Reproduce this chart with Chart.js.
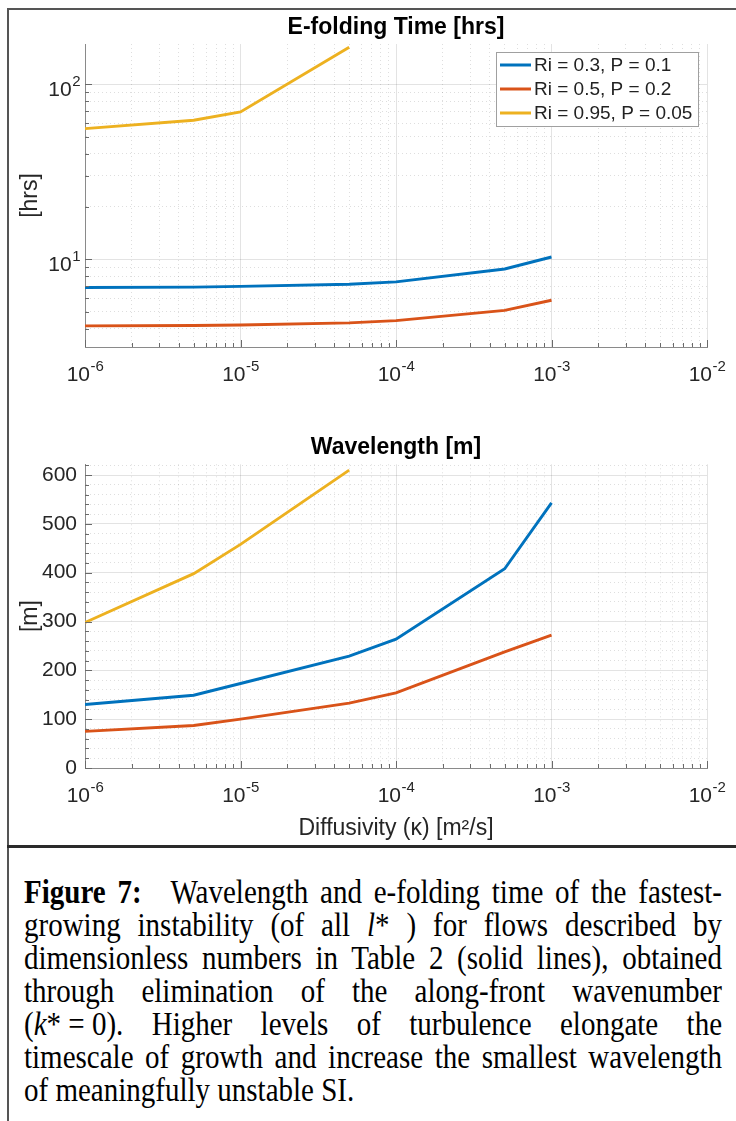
<!DOCTYPE html>
<html lang="en">
<head>
<meta charset="UTF-8">
<title>Figure 7</title>
<script src="https://cdn.jsdelivr.net/npm/chart.js"></script>
<style>
  body {
    margin: 0;
    background: #fff;
    width: 736px;
    height: 1121px;
    position: relative;
    overflow: hidden;
  }
  .frame-left { position: absolute; left: 7px; top: 8px; width: 2px; height: 1113px; background: #555; }
  .frame-top { position: absolute; left: 7px; top: 8px; width: 729px; height: 2px; background: #555; }
  .frame-rule { position: absolute; left: 7px; top: 845px; width: 729px; height: 3px; background: #2a2a2a; }
  #topChart { position: absolute; left: 0; top: 0; }
  #bottomChart { position: absolute; left: 0; top: 420px; }
  .caption {
    position: absolute;
    left: 24px;
    top: 877px;
    width: 698px;
    font-family: 'Liberation Serif', 'Times New Roman', serif;
    font-size: 29px;
    line-height: 33px;
    color: #000;
  }
  .caption div {
    text-align: justify;
    text-align-last: justify;
    transform: scaleY(1.18);
    transform-origin: center 26px;
  }
  .caption div.last { text-align-last: left; }
  .keep { display: inline-block; }
</style>
</head>
<body>
<div class="frame-left"></div>
<div class="frame-top"></div>
<div class="frame-rule"></div>

<canvas id="topChart" width="736" height="410"></canvas>
<canvas id="bottomChart" width="736" height="426"></canvas>

<div class="caption">
  <div><b>Figure 7:</b>&emsp;Wavelength and e-folding time of the fastest-</div>
  <div>growing instability (of all <i>l</i>* ) for flows described by</div>
  <div>dimensionless numbers in Table 2 (solid lines), obtained</div>
  <div>through elimination of the along-front wavenumber</div>
  <div><span class="keep">(<i>k</i>* = 0).</span> Higher levels of turbulence elongate the</div>
  <div>timescale of growth and increase the smallest wavelength</div>
  <div class="last">of meaningfully unstable SI.</div>
</div>

<script>
// diffusivity values (m^2/s)
const kappa = [1e-6, 5e-6, 1e-5, 5e-5, 1e-4, 5e-4, 1e-3];

const seriesLabels = ['Ri = 0.3, P = 0.1', 'Ri = 0.5, P = 0.2', 'Ri = 0.95, P = 0.05'];
const seriesColors = ['#0072BD', '#D95319', '#EDB120'];

// e-folding time [hrs]
const efoldBlue = [6.9, 6.93, 7.0, 7.2, 7.42, 8.8, 10.3];
const efoldRed = [4.16, 4.18, 4.21, 4.33, 4.46, 5.1, 5.83];
const efoldYellow = [55.8, 62.3, 69.5, 163];

// wavelength [m]
const waveBlue = [130, 149, 173, 229, 264, 408, 543];
const waveRed = [75, 87, 100, 133, 154, 238, 272];
const waveYellow = [298, 398, 458, 610];

// axis decades / ticks
const xDecades = [1e-6, 1e-5, 1e-4, 1e-3, 1e-2];
const efoldDecades = [1, 10, 100];
const waveMajor = [0, 100, 200, 300, 400, 500, 600];

const FONT = "'Liberation Sans', Arial, Helvetica, sans-serif";
const TEXT = '#262626';

function isDecade(v) {
  const l = Math.log10(v);
  return Math.abs(l - Math.round(l)) < 1e-6;
}

function logTicks(decades, lo, hi) {
  const out = [];
  decades.forEach(d => {
    for (let m = 1; m <= 9; m++) {
      const v = m * d;
      if (v >= lo * 0.999 && v <= hi * 1.001) out.push({value: v});
    }
  });
  return out;
}

function linTicks(lo, hi, step) {
  const out = [];
  for (let v = lo; v <= hi; v += step) out.push({value: v});
  return out;
}

function toPoints(values) {
  return values.map((v, i) => ({x: kappa[i], y: v}));
}

function makeDatasets(series) {
  return series.map((vals, i) => ({
    label: seriesLabels[i],
    data: toPoints(vals),
    borderColor: seriesColors[i],
    backgroundColor: seriesColors[i],
    borderWidth: 2.9,
    pointRadius: 0,
    tension: 0,
    fill: false
  }));
}

const majorGrid = 'rgba(0,0,0,0.11)';
const minorGrid = 'rgba(0,0,0,0.13)';

function gridFor(isMajor) {
  return {
    drawTicks: false,
    color: ctx => (ctx.tick && isMajor(ctx.tick.value)) ? majorGrid : minorGrid
  };
}

function borderFor(isMajor) {
  return {
    color: '#8a8a8a',
    width: 1,
    dash: ctx => (ctx.tick && !isMajor(ctx.tick.value)) ? [1, 3] : []
  };
}

// MATLAB-style tick marks drawn inside the axes
const inwardTicks = {
  id: 'inwardTicks',
  afterDraw(chart) {
    const {ctx, chartArea, scales} = chart;
    ctx.save();
    ctx.strokeStyle = '#6a6a6a';
    ctx.lineWidth = 1;
    const xs = scales.x, ys = scales.y;
    xs.ticks.forEach(t => {
      const px = Math.round(xs.getPixelForValue(t.value)) + 0.5;
      const len = isDecade(t.value) ? 7 : 4;
      ctx.beginPath();
      ctx.moveTo(px, chartArea.bottom);
      ctx.lineTo(px, chartArea.bottom - len);
      ctx.stroke();
    });
    const yMajor = ys.options.type === 'logarithmic' ? isDecade : (v => v % 100 === 0);
    ys.ticks.forEach(t => {
      const py = Math.round(ys.getPixelForValue(t.value)) + 0.5;
      const len = yMajor(t.value) ? 7 : 4;
      ctx.beginPath();
      ctx.moveTo(chartArea.left, py);
      ctx.lineTo(chartArea.left + len, py);
      ctx.stroke();
    });
    ctx.restore();
  }
};

// "10" with a raised exponent at each decade of the log axes
const powerLabels = {
  id: 'powerLabels',
  afterDraw(chart, args, opts) {
    const {ctx, chartArea, scales} = chart;
    const big = '21px ' + FONT;
    const small = '15px ' + FONT;
    ctx.save();
    ctx.fillStyle = TEXT;
    ctx.textAlign = 'left';
    ctx.textBaseline = 'alphabetic';
    (opts.axes || []).forEach(id => {
      const s = scales[id];
      s.ticks.filter(t => isDecade(t.value)).forEach(t => {
        const exp = String(Math.round(Math.log10(t.value)));
        ctx.font = big;
        const a = ctx.measureText('10').width;
        ctx.font = small;
        const b = ctx.measureText(exp).width;
        let x0, base;
        if (s.isHorizontal()) {
          x0 = s.getPixelForValue(t.value) - (a + b) / 2;
          base = chartArea.bottom + 34;
        } else {
          x0 = chartArea.left - 5 - (a + b);
          base = s.getPixelForValue(t.value) + 12;
        }
        ctx.font = big;
        ctx.fillText('10', x0, base);
        ctx.font = small;
        ctx.fillText(exp, x0 + a + 0.5, base - 10);
      });
    });
    ctx.restore();
  }
};

// legend box in the upper right of the plot
const boxedLegend = {
  id: 'boxedLegend',
  afterDatasetsDraw(chart) {
    const {ctx, chartArea} = chart;
    const w = 202, h = 74;
    const right = chartArea.right - 9;
    const top = chartArea.top + 8;
    const left = right - w;
    ctx.save();
    ctx.fillStyle = '#fff';
    ctx.fillRect(left, top, w, h);
    ctx.strokeStyle = '#a0a0a0';
    ctx.lineWidth = 1;
    ctx.strokeRect(left + 0.5, top + 0.5, w, h);
    ctx.font = '19px ' + FONT;
    ctx.textBaseline = 'middle';
    chart.data.datasets.forEach((ds, i) => {
      const y = top + 13 + i * 24;
      ctx.strokeStyle = ds.borderColor;
      ctx.lineWidth = 3;
      ctx.beginPath();
      ctx.moveTo(left + 4, y);
      ctx.lineTo(left + 35, y);
      ctx.stroke();
      ctx.fillStyle = '#222';
      ctx.fillText(ds.label, left + 38, y + 1);
    });
    ctx.restore();
  }
};

function xAxis(height, withTitle) {
  return {
    type: 'logarithmic',
    min: 1e-6,
    max: 1e-2,
    afterBuildTicks: s => { s.ticks = logTicks(xDecades, 1e-6, 1e-2); },
    afterFit: s => { s.height = height; },
    grid: gridFor(isDecade),
    border: borderFor(isDecade),
    ticks: {display: false, autoSkip: false},
    title: {
      display: withTitle,
      text: 'Diffusivity (\u03BA) [m\u00B2/s]',
      color: TEXT,
      font: {family: FONT, size: 23},
      padding: {top: 0, bottom: 4}
    }
  };
}

function titleOpts(text, padTop, padBottom) {
  return {
    display: true,
    text: text,
    fullSize: false,
    color: '#000',
    font: {family: FONT, size: 23, weight: 'bold'},
    padding: {top: padTop, bottom: padBottom}
  };
}

new Chart(document.getElementById('topChart'), {
  type: 'line',
  data: {datasets: makeDatasets([efoldBlue, efoldRed, efoldYellow])},
  options: {
    responsive: false,
    animation: false,
    layout: {padding: {left: 0, right: 29, top: 0, bottom: 0}},
    plugins: {
      legend: {display: false},
      tooltip: {enabled: false},
      title: titleOpts('E-folding Time [hrs]', 14, 2.4),
      powerLabels: {axes: ['x', 'y']}
    },
    scales: {
      x: xAxis(63, false),
      y: {
        type: 'logarithmic',
        min: 3.15,
        max: 170,
        afterBuildTicks: s => { s.ticks = logTicks(efoldDecades, 3.15, 170); },
        afterFit: s => { s.width = 85; },
        grid: gridFor(isDecade),
        border: borderFor(isDecade),
        ticks: {display: false, autoSkip: false},
        title: {
          display: true,
          text: '[hrs]',
          color: TEXT,
          font: {family: FONT, size: 23},
          padding: {top: 17, bottom: 0}
        }
      }
    }
  },
  plugins: [inwardTicks, powerLabels, boxedLegend]
});

const isWaveMajor = v => waveMajor.includes(v);

new Chart(document.getElementById('bottomChart'), {
  type: 'line',
  data: {datasets: makeDatasets([waveBlue, waveRed, waveYellow])},
  options: {
    responsive: false,
    animation: false,
    layout: {padding: {left: 0, right: 29, top: 0, bottom: 0}},
    plugins: {
      legend: {display: false},
      tooltip: {enabled: false},
      title: titleOpts('Wavelength [m]', 14, 2.7),
      powerLabels: {axes: ['x']}
    },
    scales: {
      x: xAxis(78, true),
      y: {
        type: 'linear',
        min: 0,
        max: 622,
        afterBuildTicks: s => { s.ticks = linTicks(0, 620, 20); },
        afterFit: s => { s.width = 85; },
        grid: gridFor(isWaveMajor),
        border: borderFor(isWaveMajor),
        ticks: {
          autoSkip: false,
          padding: 8,
          color: TEXT,
          font: {family: FONT, size: 21},
          callback: v => isWaveMajor(v) ? String(v) : ''
        },
        title: {
          display: true,
          text: '[m]',
          color: TEXT,
          font: {family: FONT, size: 23},
          padding: {top: 17, bottom: 0}
        }
      }
    }
  },
  plugins: [inwardTicks, powerLabels]
});
</script>
</body>
</html>
